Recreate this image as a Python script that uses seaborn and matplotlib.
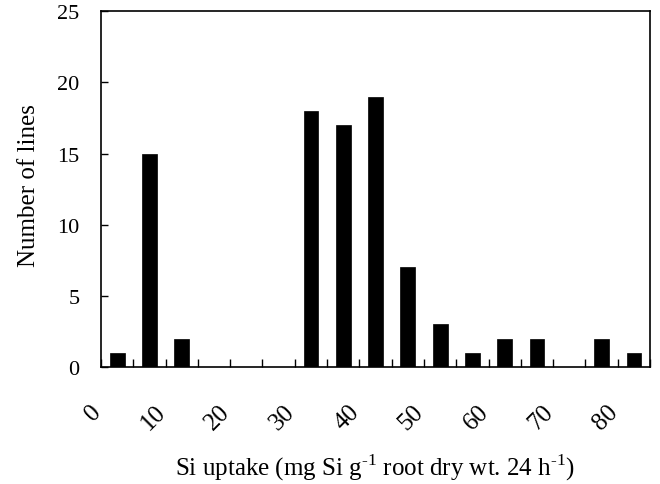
import matplotlib
matplotlib.use("Agg")
import matplotlib.pyplot as plt
import matplotlib.ticker as mticker
import matplotlib.transforms as mtransforms
import seaborn as sns
import pandas as pd

# Si uptake classes (bin midpoints, mg Si g-1 root dry wt. 24 h-1) and line counts
bin_mid = [2.5, 7.5, 12.5, 17.5, 22.5, 27.5, 32.5, 37.5, 42.5,
           47.5, 52.5, 57.5, 62.5, 67.5, 72.5, 77.5, 82.5]
n_lines = [1, 15, 2, 0, 0, 0, 18, 17, 19, 7, 3, 1, 2, 2, 0, 2, 1]
x_ticks = [0, 10, 20, 30, 40, 50, 60, 70, 80]
x_tick_labels = ["0", "10", "20", "30", "40", "50", "60", "70", "80"]
y_ticks = [0, 5, 10, 15, 20, 25]

df = pd.DataFrame({"uptake": bin_mid, "lines": n_lines})

sns.set_theme(style="ticks")
plt.rcParams["font.family"] = ["Liberation Serif", "DejaVu Serif"]
plt.rcParams["mathtext.fontset"] = "custom"
plt.rcParams["mathtext.rm"] = "Liberation Serif"

fig = plt.figure(figsize=(6.6, 4.85), dpi=100)
ax = fig.add_axes([0.153, 0.241, 0.832, 0.734])

sns.barplot(data=df, x="uptake", y="lines", native_scale=True, width=0.46,
            color="black", saturation=1, edgecolor="black", linewidth=0.5,
            ax=ax, errorbar=None)

ax.set_xlim(0, 85)
ax.set_ylim(0, 25)

ax.xaxis.set_major_locator(mticker.FixedLocator(x_ticks))
ax.xaxis.set_minor_locator(mticker.MultipleLocator(5))
ax.set_xticklabels(x_tick_labels)
ax.set_yticks(y_ticks)
ax.set_yticklabels([str(v) for v in y_ticks])

ax.tick_params(axis="x", which="both", direction="in", length=6, width=1,
               labelsize=18, pad=24, color="black", labelcolor="black")
ax.tick_params(axis="y", which="both", direction="in", length=5, width=1,
               labelsize=16, pad=15.5, color="black", labelcolor="black")
shift = mtransforms.ScaledTranslation(4 / 100, 0, fig.dpi_scale_trans)
for lab in ax.get_xticklabels():
    lab.set_rotation(45)
    lab.set_ha("right")
    lab.set_va("top")
    lab.set_transform(lab.get_transform() + shift)

for s in ax.spines.values():
    s.set_visible(True)
    s.set_color("black")
    s.set_linewidth(1.2)

ax.set_xlabel("Si uptake (mg Si g$^{\\mathregular{\u20101}}$ root dry wt. 24 h$^{\\mathregular{\u20101}}$)",
              fontsize=18, color="black")
ax.set_ylabel("Number of lines", fontsize=18, color="black")
ax.xaxis.set_label_coords(0.499, -0.238)
ax.yaxis.set_label_coords(-0.111, 0.514)

fig.savefig("out.png", dpi=100, facecolor="white")
